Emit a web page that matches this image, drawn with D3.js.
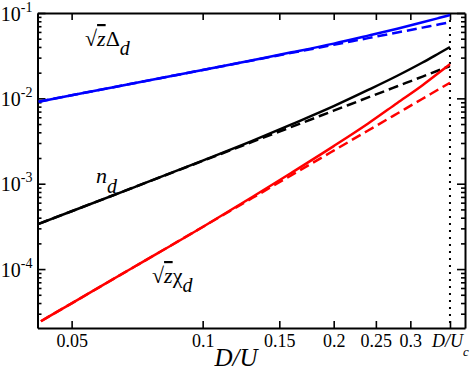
<!DOCTYPE html>
<html><head><meta charset="utf-8">
<script src="https://cdn.jsdelivr.net/npm/d3@7"></script>
<style>
body{margin:0;background:#fff}
text{font-family:"Liberation Serif","Times New Roman",serif;fill:#000}
</style>
</head><body><svg id="c" width="471" height="372"></svg>
<script>
// ---- data ----
const dU      = [0.042, 0.05, 0.07, 0.1, 0.13, 0.16, 0.2, 0.24, 0.28, 0.32, 0.35, 0.37];
const dURed   = [0.0425, 0.05, 0.07, 0.1, 0.13, 0.16, 0.2, 0.24, 0.28, 0.32, 0.35, 0.37];
const deltaSolid  = [0.00915, 0.01087, 0.01513, 0.02148, 0.0280, 0.0346, 0.0438, 0.0543, 0.0655, 0.0778, 0.0878, 0.0947];
const deltaDashed = [0.00915, 0.01087, 0.01513, 0.02148, 0.0278, 0.0341, 0.0424, 0.0508, 0.0591, 0.0674, 0.0737, 0.0778];
const nSolid      = [3.39e-4, 4.76e-4, 9.20e-4, 1.866e-3, 3.175e-3, 4.955e-3, 8.10e-3, 0.01254, 0.0184, 0.0263, 0.0340, 0.0399];
const nDashed     = [3.39e-4, 4.76e-4, 9.20e-4, 1.85e-3, 3.09e-3, 4.63e-3, 7.17e-3, 0.01025, 0.01386, 0.0180, 0.0215, 0.0239];
const chiSolid    = [2.45e-5, 3.97e-5, 1.078e-4, 3.114e-4, 6.98e-4, 1.345e-3, 2.76e-3, 5.08e-3, 8.83e-3, 0.01424, 0.0202, 0.0252];
const chiDashed   = [2.45e-5, 3.97e-5, 1.078e-4, 3.114e-4, 6.80e-4, 1.258e-3, 2.443e-3, 4.205e-3, 6.65e-3, 9.89e-3, 0.01292, 0.01524];
const xTickValues = [0.05, 0.1, 0.15, 0.2, 0.25, 0.3];
const xTickLabels = ["0.05", "0.1", "0.15", "0.2", "0.25", "0.3"];
const dUc = 0.37;
const yTickValues = [1e-4, 1e-3, 1e-2, 1e-1];
const yTickExps   = ["-4", "-3", "-2", "-1"];
const xDomain = [0.04174, 0.4006];
const yDomain = [2.04e-5, 0.1];

// ---- layout ----
const svg = d3.select("#c");
const L = 37.5, R = 465, T = 13, B = 328;
const x = d3.scaleLog().domain(xDomain).range([L, R]);
const y = d3.scaleLog().domain(yDomain).range([B, T]);

// minor y ticks
const yMinor = [];
[1e-5,1e-4,1e-3,1e-2].forEach(d => { for (let k=2;k<=9;k++){ const v=d*k; if (v>=yDomain[0] && v<=yDomain[1]) yMinor.push(v);} });

const styleAxis = g => {
  g.selectAll("path.domain").attr("stroke","#000").attr("stroke-width",2);
  g.selectAll(".tick line").attr("stroke","#000").attr("stroke-width",1.6);
};

// minor ticks
svg.append("g").attr("transform",`translate(${L},0)`)
  .call(d3.axisLeft(y).tickValues(yMinor).tickSize(-4).tickSizeOuter(0).tickFormat(""))
  .call(styleAxis).call(g=>g.select("path.domain").remove());
svg.append("g").attr("transform",`translate(${R},0)`)
  .call(d3.axisRight(y).tickValues(yMinor).tickSize(-4).tickSizeOuter(0).tickFormat(""))
  .call(styleAxis).call(g=>g.select("path.domain").remove());

// right & top axes
svg.append("g").attr("transform",`translate(${R},0)`)
  .call(d3.axisRight(y).tickValues(yTickValues).tickSize(-8).tickSizeOuter(0).tickFormat(""))
  .call(styleAxis);
svg.append("g").attr("transform",`translate(0,${T})`)
  .call(d3.axisTop(x).tickValues(xTickValues.concat([dUc])).tickSize(-7).tickSizeOuter(0).tickFormat(""))
  .call(styleAxis);

// left axis with 10^n labels
const gy = svg.append("g").attr("transform",`translate(${L},0)`)
  .call(d3.axisLeft(y).tickValues(yTickValues).tickSize(-8).tickSizeOuter(0).tickPadding(16).tickFormat(""))
  .call(styleAxis);
gy.selectAll(".tick text").each(function(d,i){
  const t = d3.select(this).attr("text-anchor","end").attr("x",-5).attr("dy",null).attr("y",7)
    .style("font-size","20px");
  t.append("tspan").text("10");
  t.append("tspan").attr("dy",-9).style("font-size","14px").text(yTickExps[i]);
});

// bottom axis
const gx = svg.append("g").attr("transform",`translate(0,${B})`)
  .call(d3.axisBottom(x).tickValues(xTickValues.concat([dUc])).tickSize(-7).tickSizeOuter(0)
    .tickFormat((d,i)=> i < xTickLabels.length ? xTickLabels[i] : ""))
  .call(styleAxis);
gx.selectAll(".tick text").style("font-size","18px").attr("dy",null).attr("y",19);
gx.selectAll(".tick").filter(d=>d===dUc).select("text").each(function(){
  const t = d3.select(this).style("font-style","italic");
  t.append("tspan").text("D/U");
  t.append("tspan").attr("dy",9).style("font-size","13px").text("c");
});

// dotted critical line
svg.append("line").attr("x1",x(dUc)).attr("x2",x(dUc)).attr("y1",T).attr("y2",B)
  .attr("stroke","#000").attr("stroke-width",2).attr("stroke-dasharray","2,5");

// curves
const line = (xs, ys) => d3.line().x((d,i)=>x(xs[i])).y(d=>y(d)).curve(d3.curveMonotoneX)(ys);
const series = [
  {xs:dU, ys:deltaDashed, c:"#0000ff", dash:"10,5"},
  {xs:dU, ys:deltaSolid,  c:"#0000ff", dash:null},
  {xs:dU, ys:nDashed,     c:"#000000", dash:"10,5"},
  {xs:dU, ys:nSolid,      c:"#000000", dash:null},
  {xs:dURed, ys:chiDashed,c:"#ff0000", dash:"10,5"},
  {xs:dURed, ys:chiSolid, c:"#ff0000", dash:null}
];
series.forEach(s=>{
  svg.append("path").attr("d",line(s.xs,s.ys)).attr("fill","none")
    .attr("stroke",s.c).attr("stroke-width",2.5).attr("stroke-dasharray",s.dash);
});

// labels
function sqrtLabel(xp, yp, sym){
  const t = svg.append("text").attr("x",xp).attr("y",yp).style("font-size","22px");
  t.append("tspan").text("\u221A");
  t.append("tspan").style("font-style","italic").style("text-decoration","overline").text("z");
  t.append("tspan").text(sym);
  t.append("tspan").attr("dy",9).style("font-style","italic").style("font-size","20px").text("d");
}
sqrtLabel(85, 46, "\u0394");
sqrtLabel(152, 283, "\u03C7");
const tn = svg.append("text").attr("x",96).attr("y",183).style("font-size","22px").style("font-style","italic");
tn.append("tspan").text("n");
tn.append("tspan").attr("dy",10).style("font-size","20px").text("d");

// axis title
svg.append("text").attr("x",236).attr("y",366).attr("text-anchor","middle")
  .style("font-size","25px").style("font-style","italic").text("D/U");
</script>
</body></html>
